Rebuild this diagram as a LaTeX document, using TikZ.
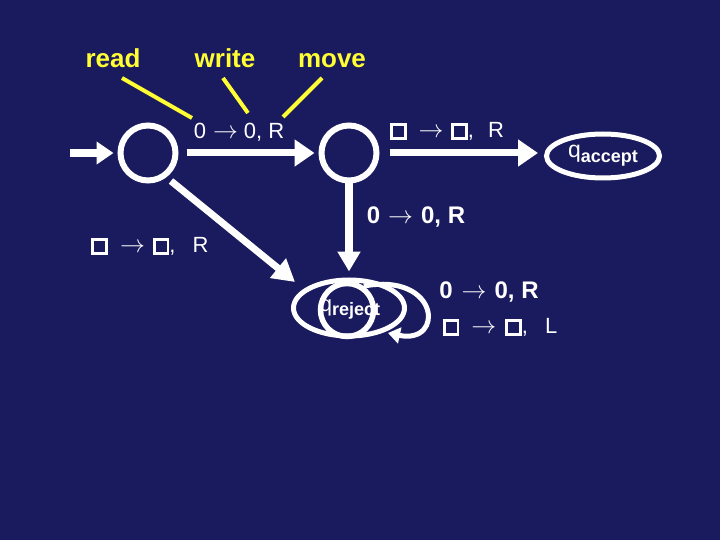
\documentclass[tikz,border=0pt]{standalone}
\usepackage{fontspec}
\setmainfont{Liberation Sans}
\usetikzlibrary{arrows.meta,shapes.geometric}
\definecolor{bg}{RGB}{26,26,94}
\definecolor{yel}{RGB}{255,255,51}
\newcommand\blk{{\setlength\fboxrule{2.8pt}\setlength\fboxsep{0pt}\fbox{\rule{0pt}{11pt}\hspace{11pt}}}}
\newcommand\arw{{\fontsize{24.88}{28}\selectfont$\rightarrow$}}
\tikzset{
  state/.style={circle, draw=white, line width=6pt, minimum size=55pt, inner sep=0pt},
  finalst/.style={ellipse, draw=white, line width=5pt, inner sep=0pt, text=white},
  arr/.style={draw=white, line width=7pt, -{Triangle[length=20pt,width=26pt]}},
  hint/.style={draw=yel, line width=4pt},
  ylab/.style={text=yel, font=\fontsize{26}{30}\selectfont\bfseries, anchor=base, inner sep=0pt},
  lab/.style={text=white, font=\fontsize{22}{26}\selectfont, inner sep=0pt},
  blab/.style={text=white, font=\fontsize{24}{28}\selectfont\bfseries, inner sep=0pt}
}
\begin{document}
\begin{tikzpicture}[x=1pt,y=-1pt]
\fill[bg] (0,0) rectangle (720,540);
\useasboundingbox (0,0) rectangle (720,540);

% header labels
\node[ylab] (rd) at (113,68) {read};
\node[ylab] (wr) at (225,68) {write};
\node[ylab] (mv) at (332,68) {move};
\coordinate (rd1) at (122,78); \coordinate (rd2) at (192,118);
\coordinate (wr1) at (223,78); \coordinate (wr2) at (248,113);
\coordinate (mv1) at (322,78); \coordinate (mv2) at (283,117);
\draw[hint] (rd1) -- (rd2);
\draw[hint] (wr1) -- (wr2);
\draw[hint] (mv1) -- (mv2);

% states
\node[state] (q0) at (148,153) {};
\node[state] (q1) at (349,153) {};
\node[finalst, minimum width=113pt, minimum height=44pt] (qa) at (603,156)
  {\fontsize{23}{24}\selectfont q\raisebox{-5pt}{\fontsize{18}{20}\selectfont\bfseries accept}};
\node[finalst, minimum width=111pt, minimum height=56pt] (qr) at (349,308) {};
\node[state, line width=5.5pt, minimum size=53pt] (q2) at (347,310) {};
\node[text=white, inner sep=0pt] (qrt) at (350,309)
  {\fontsize{22}{24}\selectfont q\raisebox{-4pt}{\fontsize{18}{20}\selectfont\bfseries reject}};

% connectors
\coordinate (s0) at (70,153);
\draw[arr, line width=8pt, -{Triangle[length=17pt,width=22pt]}, shorten >=4pt] (s0) -- (q0);
\draw[arr, shorten <=8pt, shorten >=4pt] (q0) -- (q1);
\draw[arr, shorten <=10pt, shorten >=6pt] (q1) -- (q1 -| qa.west);
\draw[arr, line width=8pt, -{Triangle[length=20pt,width=22pt]}, shorten >=6pt] (q1.south) -- (qr.north);
\coordinate (d1) at (171,181);
\coordinate (d2) at (295,282);
\draw[arr, -{Triangle[length=22pt,width=24pt]}] (d1) -- (d2);
\coordinate (lp) at (388,333);
\draw[draw=white, line width=5pt, -{Triangle[length=12pt,width=16pt]}]
  (q2.55) .. controls (440,272) and (445,345) .. (lp);

% transition labels
\node[lab] (l1) at (239,132) {0\hspace{7pt}\arw\hspace{6pt}0, R};
\node[lab] (l2) at (447,131) {\blk\hspace{12pt}\arw\hspace{8pt}\blk, \hspace{8pt}R};
\node[blab] (l3) at (416,217) {0\hspace{8pt}\arw\hspace{8pt}0, R};
\node[lab] (l4) at (150,246) {\blk\hspace{12pt}\arw\hspace{8pt}\blk, \hspace{11pt}R};
\node[blab] (l5) at (489,292) {0\hspace{9pt}\arw\hspace{8pt}0, R};
\node[lab] (l6) at (500,327) {\blk\hspace{12pt}\arw\hspace{9pt}\blk, \hspace{11pt}L};
\end{tikzpicture}
\end{document}
